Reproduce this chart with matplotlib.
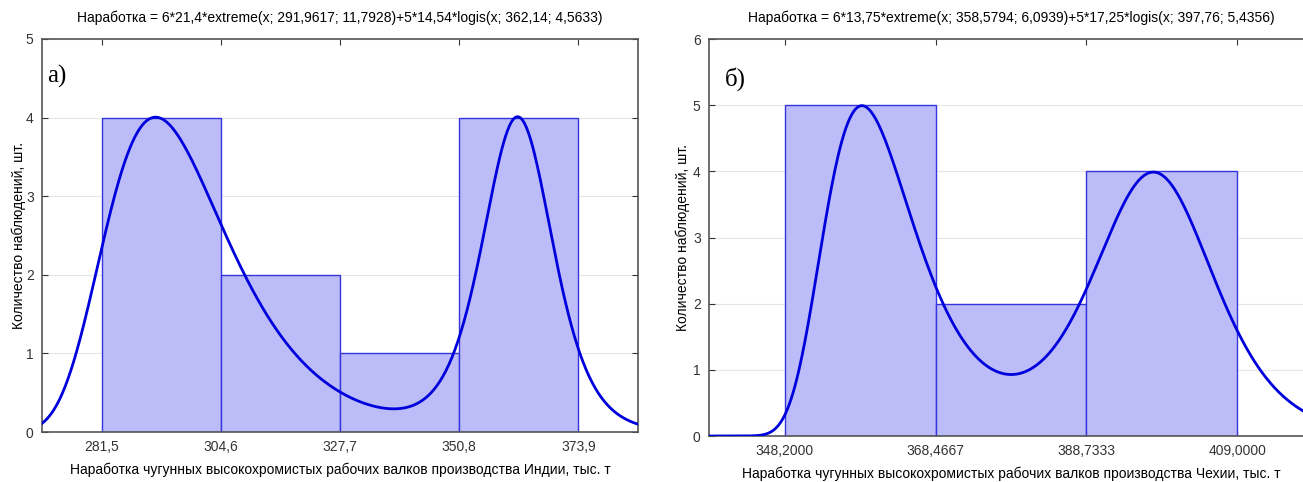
import numpy as np
import matplotlib
matplotlib.use("Agg")
import matplotlib.pyplot as plt

plt.rcParams['font.family'] = ['Liberation Sans', 'DejaVu Sans']

# panel a) - India
edges_a = [281.5, 304.6, 327.7, 350.8, 373.9]
counts_a = [4, 2, 1, 4]
fit_a = dict(n1=6, w1=21.4, loc1=291.9617, scale1=11.7928,
             n2=5, w2=14.54, loc2=362.14, scale2=4.5633)
title_a = "Наработка = 6*21,4*extreme(x; 291,9617; 11,7928)+5*14,54*logis(x; 362,14; 4,5633)"
xlabel_a = "Наработка чугунных высокохромистых рабочих валков производства Индии, тыс. т"
ticklabels_a = ["281,5", "304,6", "327,7", "350,8", "373,9"]

# panel б) - Czech
edges_b = [348.2, 368.4667, 388.7333, 409.0]
counts_b = [5, 2, 4]
fit_b = dict(n1=6, w1=13.75, loc1=358.5794, scale1=6.0939,
             n2=5, w2=17.25, loc2=397.76, scale2=5.4356)
title_b = "Наработка = 6*13,75*extreme(x; 358,5794; 6,0939)+5*17,25*logis(x; 397,76; 5,4356)"
xlabel_b = "Наработка чугунных высокохромистых рабочих валков производства Чехии, тыс. т"
ticklabels_b = ["348,2000", "368,4667", "388,7333", "409,0000"]

ylabel = "Количество наблюдений, шт."


def extreme(x, a, b):
    z = (x - a) / b
    return np.exp(-z) * np.exp(-np.exp(-z)) / b


def logis(x, a, s):
    z = (x - a) / s
    return np.exp(-z) / (s * (1 + np.exp(-z)) ** 2)


def panel(ax, edges, counts, fit, title, xlabel, ticklabels, ymax, letter, lx, ly, ypad):
    edges = np.array(edges)
    w = edges[1] - edges[0]
    ax.bar(edges[:-1], counts, width=np.diff(edges), align='edge',
           color='#bcbcf8', edgecolor='#3535e0', linewidth=1, zorder=2)
    lo, hi = edges[0] - w / 2, edges[-1] + w / 2
    x = np.linspace(lo, hi, 600)
    y = (fit['n1'] * fit['w1'] * extreme(x, fit['loc1'], fit['scale1'])
         + fit['n2'] * fit['w2'] * logis(x, fit['loc2'], fit['scale2']))
    ax.plot(x, y, color='#0000dd', lw=2, zorder=3)
    ax.set_xlim(lo, hi)
    ax.set_ylim(0, ymax)
    ax.set_xticks(edges)
    ax.set_xticklabels(ticklabels)
    ax.set_yticks(range(ymax + 1))
    ax.grid(axis='y', color='#e6e6e6', lw=0.8, zorder=0)
    ax.tick_params(direction='in', top=True, right=True, length=4,
                   labelsize=10, colors='#333333', pad=6)
    for s in ax.spines.values():
        s.set_color('#555555')
        s.set_linewidth(1.2)
    ax.set_title(title, fontsize=10, pad=12)
    ax.set_xlabel(xlabel, fontsize=10, labelpad=6)
    ax.set_ylabel(ylabel, fontsize=10, labelpad=ypad)
    ax.text(lx, ly, letter, transform=ax.transAxes, fontsize=18, va='center',
            family='Liberation Serif')


fig = plt.figure(figsize=(13.03, 4.82), dpi=100)
ax1 = fig.add_axes([42 / 1303, 50 / 482, 596 / 1303, 393 / 482])
ax2 = fig.add_axes([709 / 1303, 46 / 482, 604 / 1303, 397 / 482])

panel(ax1, edges_a, counts_a, fit_a, title_a, xlabel_a, ticklabels_a, 5, "а)", 0.008, 0.905, 0)
panel(ax2, edges_b, counts_b, fit_b, title_b, xlabel_b, ticklabels_b, 6, "б)", 0.026, 0.9, 2)

fig.savefig("out.png", dpi=100)
